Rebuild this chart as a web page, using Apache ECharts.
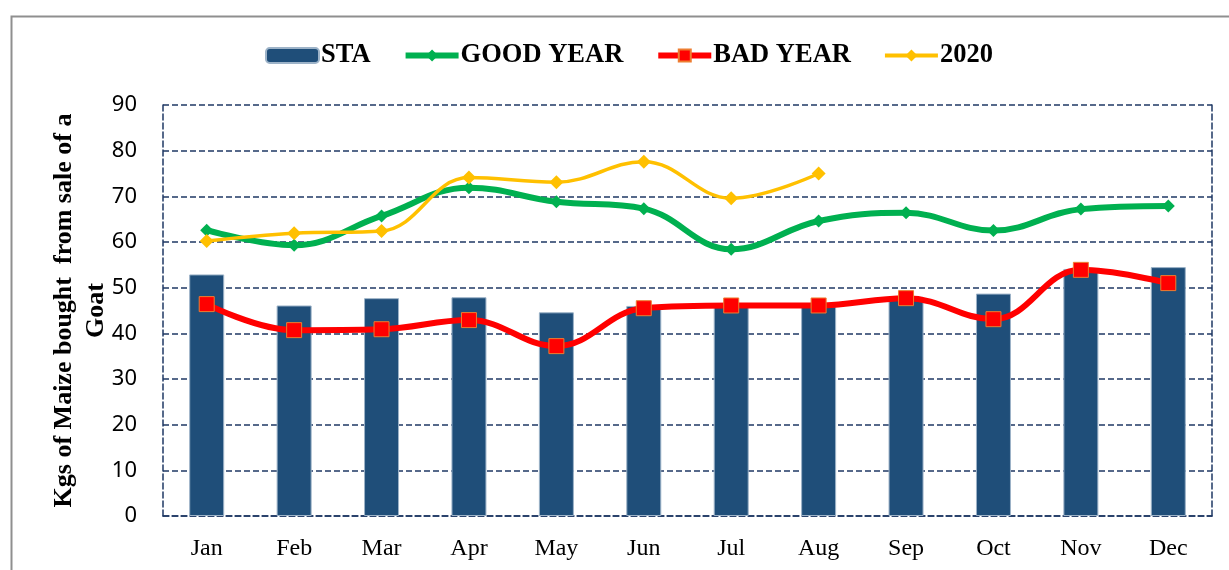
<!DOCTYPE html>
<html>
<head>
<meta charset="utf-8">
<script src="https://cdn.jsdelivr.net/npm/echarts@6/dist/echarts.min.js"></script>
<style>
  html,body{margin:0;padding:0;background:#fff;}
  #chart{width:1229px;height:570px;}
</style>
</head>
<body>
<div id="chart"></div>
<script>
  const months = ['Jan','Feb','Mar','Apr','May','Jun','Jul','Aug','Sep','Oct','Nov','Dec'];
  const sta      = [52.9, 46.1, 47.7, 47.9, 44.6, 46.0, 45.9, 45.9, 48.0, 48.7, 54.1, 54.5];
  const goodYear = [62.6, 59.3, 65.7, 71.9, 68.8, 67.3, 58.4, 64.6, 66.4, 62.5, 67.2, 67.9];
  const badYear  = [46.4, 40.7, 40.9, 42.9, 37.2, 45.5, 46.1, 46.1, 47.7, 43.1, 53.9, 51.0];
  const y2020    = [60.2, 61.9, 62.4, 74.1, 73.1, 77.6, 69.6, 75.0];

  const serif = '"Liberation Serif", "Times New Roman", serif';
  const navy = '#1F3864';
  const dashed = { color: navy, width: 1.5, type: [6, 3] };

  const chart = echarts.init(document.getElementById('chart'));
  chart.setOption({
    animation: false,
    graphic: [{
      type: 'rect', left: 9, top: 14, silent: true,
      shape: { width: 1300, height: 700 },
      style: { fill: 'none', stroke: '#8f8f8f', lineWidth: 2 }
    }],
    legend: {
      top: 37, left: 260,
      itemWidth: 53, itemHeight: 15, itemGap: 32,
      textStyle: { fontFamily: serif, fontWeight: 'bold', fontSize: 26.5, color: '#000', padding: [0,0,0,-3] },
      data: [
        { name: 'STA' },
        { name: 'GOOD YEAR', lineStyle: { width: 6 } },
        { name: 'BAD YEAR', lineStyle: { width: 6 } },
        { name: '2020', lineStyle: { width: 4 } }
      ]
    },
    grid: { left: 163, right: 17, top: 105, bottom: 54 },
    xAxis: [{
      type: 'category', data: months,
      axisLine: { show: true, lineStyle: dashed },
      axisTick: { show: false },
      axisLabel: { fontFamily: serif, fontSize: 24, color: '#000', margin: 21 }
    }],
    yAxis: [{
      type: 'value', min: 0, max: 90, interval: 10,
      name: 'Kgs of Maize bought  from sale of a\nGoat',
      nameLocation: 'middle', nameGap: 51, nameMoveOverlap: false,
      nameTextStyle: { fontFamily: serif, fontWeight: 'bold', fontSize: 26, color: '#000', lineHeight: 32 },
      axisLine: { show: true, lineStyle: dashed },
      axisTick: { show: false },
      axisLabel: { fontFamily: '"Noto Sans", sans-serif', fontSize: 22, color: '#000', margin: 26 },
      splitLine: { show: true, lineStyle: dashed }
    }, {
      type: 'value', min: 0, max: 90, interval: 10, position: 'right',
      axisLine: { show: true, lineStyle: dashed },
      axisTick: { show: false }, axisLabel: { show: false }, splitLine: { show: false }
    }],
    series: [{
      name: 'STA', type: 'bar', data: sta, barWidth: 35,
      itemStyle: { color: '#1F4E79', borderColor: '#9DB3C8', borderWidth: 1 }
    }, {
      name: 'GOOD YEAR', type: 'line', data: goodYear, smooth: 0.4,
      symbol: 'diamond', symbolSize: 13,
      lineStyle: { color: '#00B050', width: 6 },
      itemStyle: { color: '#00B050' }
    }, {
      name: 'BAD YEAR', type: 'line', data: badYear, smooth: 0.4,
      symbol: 'rect', symbolSize: 15,
      lineStyle: { color: '#FF0000', width: 6 },
      itemStyle: { color: '#FF0000', borderColor: '#ED7D31', borderWidth: 1 }
    }, {
      name: '2020', type: 'line', data: y2020, smooth: 0.4,
      symbol: 'diamond', symbolSize: 14,
      lineStyle: { color: '#FFC000', width: 3.5 },
      itemStyle: { color: '#FFC000' }
    }]
  });
</script>
</body>
</html>
